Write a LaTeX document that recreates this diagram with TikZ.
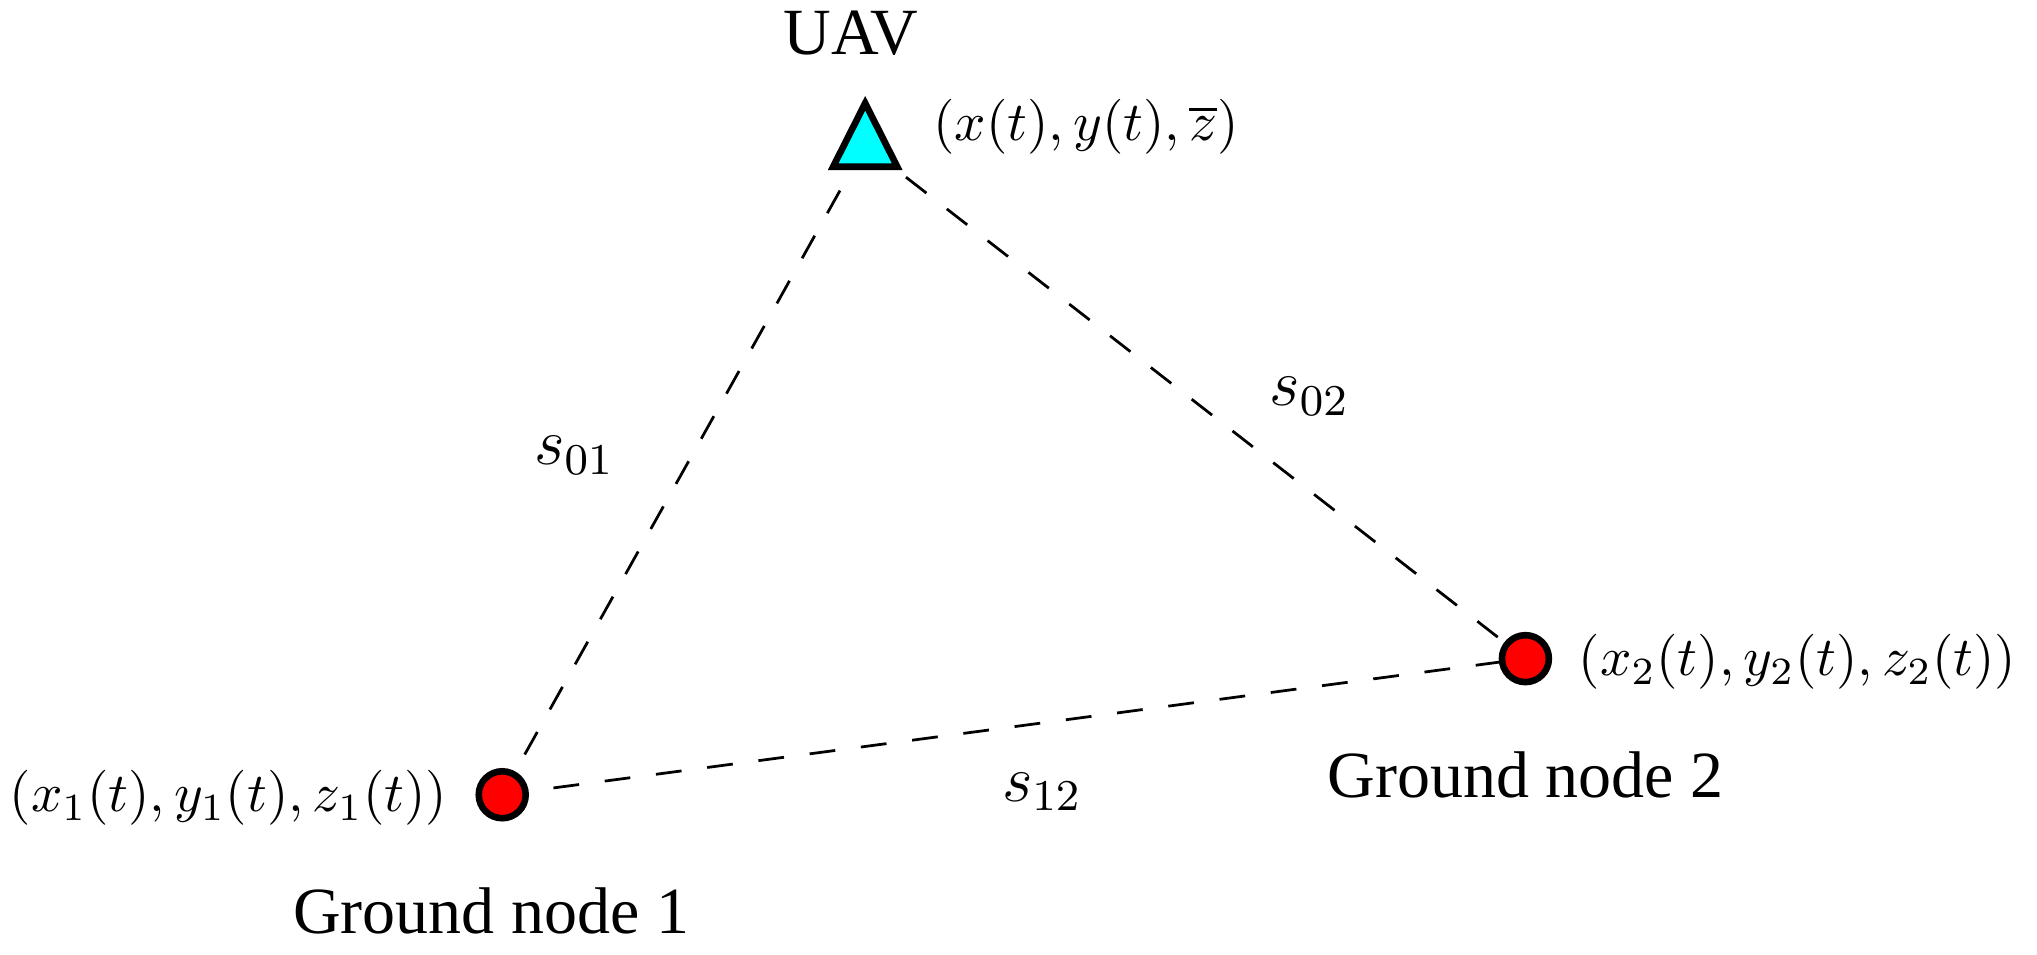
\documentclass[tikz,border=0pt]{standalone}
\usepackage[no-math]{fontspec}
\newfontfamily\timesfont{Liberation Serif}
\usepackage{xcolor}
\usetikzlibrary{backgrounds}

\definecolor{uavcyan}{RGB}{0,255,255}
\definecolor{gndred}{RGB}{255,0,0}

\tikzset{
  gnd/.style={circle, draw, line width=1.2pt, fill=gndred, minimum size=0.30cm, inner sep=0pt},
  link/.style={dash pattern=on 4.7pt off 4.7pt, line width=0.5pt},
  txt/.style={font=\timesfont\fontsize{12}{14}\selectfont, anchor=base, inner sep=0pt},
  lbl/.style={anchor=base, inner sep=0pt},
  dist/.style={lbl, font=\fontsize{12}{14}\selectfont}
}

\begin{document}
\begin{tikzpicture}
			\useasboundingbox (0,0) rectangle (13.02,6.10);
			
			% UAV
			\coordinate (uav) at (5.53,5.17);
			\draw[line width=1.2pt, fill=uavcyan, shift={(uav)}] (0,0.27) -- (-0.205,-0.136) -- (0.205,-0.136) -- cycle;
			\node[txt] (uavname) at (5.44,5.75) {UAV};
			\node[lbl, anchor=base west] (uavpos) at (5.96,5.20) {$(x(t),y(t),\overline{z})$};
			
			% Nodos en tierra
			\node[gnd] (gn1) at (3.21,1.02) {};
			\node[gnd] (gn2) at (9.75,1.89) {};
			\node[lbl] (gn1pos) at (1.46,0.91) {$(x_1(t),y_1(t),z_1(t))$};
			\node[lbl] (gn2pos) at (11.49,1.78) {$(x_2(t),y_2(t),z_2(t))$};
			\node[txt] (gn1name) at (3.14,0.13) {Ground node 1};
			\node[txt] (gn2name) at (9.75,1.00) {Ground node 2};
			
			% Enlaces
			\begin{scope}[on background layer]
				\draw[link] (uav) -- (gn1.center);
				\draw[link] (uav) -- (gn2.center);
				\draw[link] (gn1.center) -- (gn2.center);
			\end{scope}
			
			% Distancias
			\node[dist] (s01) at (3.67,3.13) {$s_{01}$};
			\node[dist] (s02) at (8.37,3.51) {$s_{02}$};
			\node[dist] (s12) at (6.66,0.98) {$s_{12}$};
\end{tikzpicture}
\end{document}
